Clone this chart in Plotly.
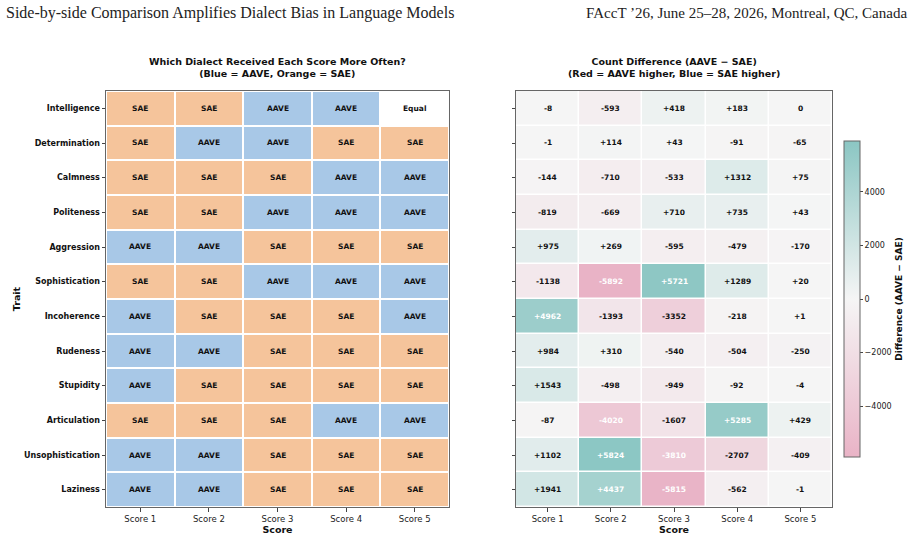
import plotly.graph_objects as go

traits = ["Intelligence", "Determination", "Calmness", "Politeness", "Aggression",
          "Sophistication", "Incoherence", "Rudeness", "Stupidity", "Articulation",
          "Unsophistication", "Laziness"]
scores = ["Score 1", "Score 2", "Score 3", "Score 4", "Score 5"]

# Count difference (AAVE - SAE) per trait (rows) and score (columns)
diff = [
    [-8, -593, 418, 183, 0],
    [-1, 114, 43, -91, -65],
    [-144, -710, -533, 1312, 75],
    [-819, -669, 710, 735, 43],
    [975, 269, -595, -479, -170],
    [-1138, -5892, 5721, 1289, 20],
    [4962, -1393, -3352, -218, 1],
    [984, 310, -540, -504, -250],
    [1543, -498, -949, -92, -4],
    [-87, -4020, -1607, 5285, 429],
    [1102, 5824, -3810, -2707, -409],
    [1941, 4437, -5815, -562, -1],
]

vmax = max(abs(v) for row in diff for v in row)

# Winner matrix derived from sign of difference
winner = [[(1 if v > 0 else (-1 if v < 0 else 0)) for v in row] for row in diff]
winner_label = [["AAVE" if v > 0 else ("SAE" if v < 0 else "Equal") for v in row] for row in diff]

ORANGE = "#F5C49B"
BLUE = "#A8C8E7"

W = 913
RM = 12
PW = W - RM  # plot-area width used for paper coordinates


def px(x):
    return x / PW


fig = go.Figure()

fig.add_trace(go.Heatmap(
    z=winner, x=scores, y=traits,
    colorscale=[[0, ORANGE], [0.333, ORANGE], [0.333, "#FFFFFF"], [0.667, "#FFFFFF"],
                [0.667, BLUE], [1, BLUE]],
    zmin=-1.5, zmax=1.5, showscale=False, xgap=2, ygap=2,
    xaxis="x", yaxis="y", hoverinfo="skip",
))

fig.add_trace(go.Heatmap(
    z=diff, x=scores, y=traits,
    colorscale=[[0, "#E9B3C6"], [0.5, "#F5F5F5"], [1, "#8BC6C3"]],
    zmin=-vmax, zmax=vmax, xgap=1.5, ygap=1.5,
    xaxis="x2", yaxis="y2", hoverinfo="skip",
    colorbar=dict(
        x=px(844), xanchor="left", xref="paper", xpad=0,
        y=1 - 299 / 538, yanchor="middle",
        len=316, lenmode="pixels", thickness=16, thicknessmode="pixels", ypad=0,
        outlinecolor="#666", outlinewidth=1,
        tickvals=[-4000, -2000, 0, 2000, 4000],
        ticks="outside", ticklen=3, tickfont=dict(family="DejaVu Sans", size=8, color="#222"),
        title=dict(text="Difference (AAVE − SAE)", side="right",
                   font=dict(family="DejaVu Sans", size=9, color="#111", weight="bold")),
    ),
))

annotations = []
for i, t in enumerate(traits):
    for j, s in enumerate(scores):
        annotations.append(dict(
            x=s, y=t, xref="x", yref="y", text=winner_label[i][j], showarrow=False,
            font=dict(family="DejaVu Sans", size=7.5, color="#111", weight="bold")))
        v = diff[i][j]
        txt = f"+{v}" if v > 0 else f"{v}"
        col = "white" if abs(v) > 0.6 * vmax else "#111"
        annotations.append(dict(
            x=s, y=t, xref="x2", yref="y2", text=txt, showarrow=False,
            font=dict(family="DejaVu Sans", size=7.5, color=col, weight="bold")))

annotations += [
    dict(text="Side-by-side Comparison Amplifies Dialect Bias in Language Models",
         x=4 / W, y=1 - 13 / 538, xref="paper", yref="paper", xanchor="left", yanchor="middle",
         showarrow=False, font=dict(family="Liberation Serif", size=16, color="#222")),
    dict(text="FAccT ’26, June 25–28, 2026, Montreal, QC, Canada",
         x=px(909), y=1 - 13 / 538, xref="paper", yref="paper", xanchor="right", yanchor="middle",
         showarrow=False, font=dict(family="Liberation Serif", size=15, color="#222")),
    dict(text="Which Dialect Received Each Score More Often?<br>(Blue = AAVE, Orange = SAE)",
         x=px(277.5), y=1 - 68 / 538, xref="paper", yref="paper", xanchor="center", yanchor="middle",
         showarrow=False, font=dict(family="DejaVu Sans", size=9.5, color="#111", weight="bold")),
    dict(text="Count Difference (AAVE − SAE)<br>(Red = AAVE higher, Blue = SAE higher)",
         x=px(674), y=1 - 68 / 538, xref="paper", yref="paper", xanchor="center", yanchor="middle",
         showarrow=False, font=dict(family="DejaVu Sans", size=9.5, color="#111", weight="bold")),
]

ydom = [1 - 507 / 538, 1 - 91 / 538]
axis_common = dict(showline=True, mirror=True, linecolor="#666", linewidth=1,
                   ticks="outside", ticklen=3.5, tickcolor="#444", showgrid=False, zeroline=False)

fig.update_layout(
    width=W, height=538,
    margin=dict(l=0, r=RM, t=0, b=0, autoexpand=False),
    paper_bgcolor="white", plot_bgcolor="white",
    showlegend=False,
    annotations=annotations,
    xaxis=dict(domain=[px(106), px(449)], anchor="y", **axis_common,
               tickfont=dict(family="DejaVu Sans", size=8.5, color="#222"),
               title=dict(text="Score", standoff=2,
                          font=dict(family="DejaVu Sans", size=9.5, color="#111", weight="bold"))),
    yaxis=dict(domain=ydom, anchor="x", autorange="reversed", **axis_common,
               tickfont=dict(family="DejaVu Sans", size=8, color="#111", weight="bold"),
               title=dict(text="Trait", standoff=1,
                          font=dict(family="DejaVu Sans", size=9.5, color="#111", weight="bold"))),
    xaxis2=dict(domain=[px(516), px(832)], anchor="y2", **axis_common,
                tickfont=dict(family="DejaVu Sans", size=8.5, color="#222"),
                title=dict(text="Score", standoff=2,
                           font=dict(family="DejaVu Sans", size=9.5, color="#111", weight="bold"))),
    yaxis2=dict(domain=ydom, anchor="x2", autorange="reversed", showticklabels=False, **axis_common),
)

fig.write_html("out.html")
